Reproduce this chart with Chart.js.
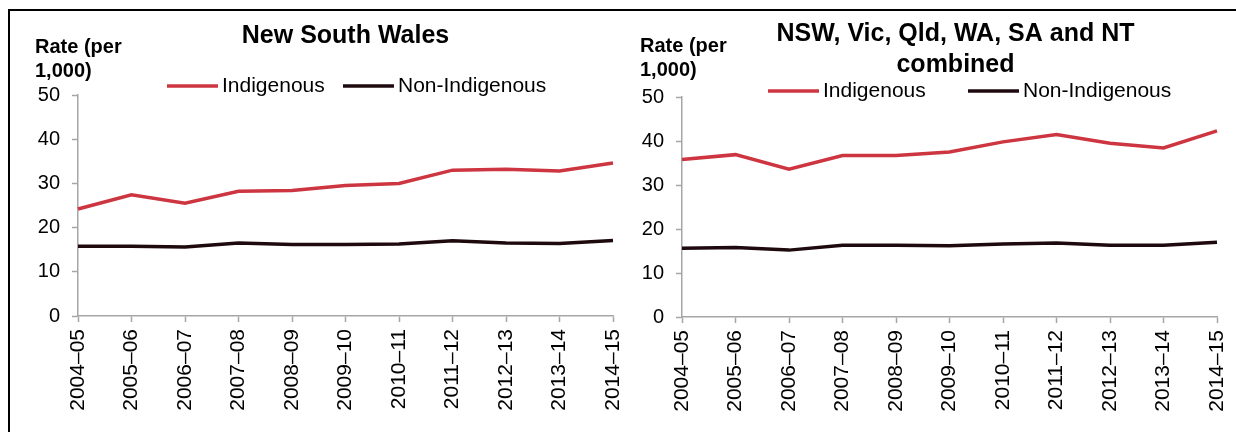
<!DOCTYPE html>
<html>
<head>
<meta charset="utf-8">
<script src="https://cdn.jsdelivr.net/npm/chart.js@4.4.1/dist/chart.umd.min.js"></script>
<style>
  html, body { margin: 0; padding: 0; background: #fff; }
  body { width: 1236px; height: 432px; position: relative; overflow: hidden; }
  #frame { position: absolute; left: 8px; top: 9px; width: 1300px; height: 500px;
           border-top: 2px solid #000; border-left: 2px solid #000; }
  canvas { position: absolute; top: 0; }
  #c1 { left: 0; }
  #c2 { left: 618px; }
</style>
</head>
<body>
<div id="frame"></div>
<canvas id="c1" width="640" height="432"></canvas>
<canvas id="c2" width="618" height="432"></canvas>
<script>
// ---- data ----
const years = ['2004–05','2005–06','2006–07','2007–08','2008–09','2009–10','2010–11','2011–12','2012–13','2013–14','2014–15'];
const nswIndigenous    = [24.2, 27.4, 25.5, 28.2, 28.4, 29.5, 30.0, 33.0, 33.2, 32.8, 34.6];
const nswNonIndigenous = [15.8, 15.8, 15.6, 16.5, 16.2, 16.2, 16.3, 17.0, 16.5, 16.4, 17.1];
const combIndigenous    = [35.8, 36.9, 33.6, 36.7, 36.7, 37.5, 39.8, 41.5, 39.5, 38.4, 42.3];
const combNonIndigenous = [15.6, 15.8, 15.2, 16.3, 16.3, 16.2, 16.6, 16.8, 16.3, 16.3, 17.0];
const yTicks = [0, 10, 20, 30, 40, 50];
const seriesNames = ['Indigenous', 'Non-Indigenous'];
const titleLeft = ['New South Wales'];
const titleRight = ['NSW, Vic, Qld, WA, SA and NT', 'combined'];
const yAxisLabel = ['Rate (per', '1,000)'];

// ---- styling ----
const RED = '#cd3540';
const DARK = '#1e0a0e';
const AXIS = '#a6a6a6';
const FONT = "'Liberation Sans', Arial, sans-serif";

Chart.defaults.font.family = FONT;
Chart.defaults.color = '#000';

const annotPlugin = {
  id: 'annot',
  afterDraw(chart, args, opts) {
    const ctx = chart.ctx;
    const ca = chart.chartArea;
    ctx.save();
    ctx.fillStyle = '#000';
    ctx.font = 'bold ' + opts.titleSize + 'px ' + FONT;
    ctx.textAlign = 'center';
    ctx.textBaseline = 'middle';
    const cx = (ca.left + ca.right) / 2 + opts.titleDx;
    opts.title.forEach((t, i) => ctx.fillText(t, cx, opts.titleY + i * opts.titleLH));
    ctx.font = 'bold ' + opts.rateSize + 'px ' + FONT;
    ctx.textAlign = 'left';
    opts.rate.forEach((t, i) => ctx.fillText(t, opts.rateX, opts.rateY + i * opts.rateLH));
    ctx.font = opts.legendSize + 'px ' + FONT;
    chart.data.datasets.forEach((ds, i) => {
      const x0 = opts.legendX[i];
      ctx.strokeStyle = ds.borderColor;
      ctx.lineWidth = ds.borderWidth;
      ctx.beginPath();
      ctx.moveTo(x0, opts.legendY);
      ctx.lineTo(x0 + opts.legendLine, opts.legendY);
      ctx.stroke();
      ctx.fillStyle = '#000';
      ctx.textAlign = 'left';
      ctx.fillText(ds.label, x0 + opts.legendLine + 4, opts.legendY);
    });
    ctx.restore();
  }
};

function makeChart(id, ind, non, cfg) {
  return new Chart(document.getElementById(id), {
    type: 'line',
    data: {
      labels: years,
      datasets: [
        { label: seriesNames[0], data: ind, borderColor: RED, backgroundColor: RED, borderWidth: 3.5, pointRadius: 0, tension: 0 },
        { label: seriesNames[1], data: non, borderColor: DARK, backgroundColor: DARK, borderWidth: 3.5, pointRadius: 0, tension: 0 }
      ]
    },
    options: {
      responsive: false,
      animation: false,
      devicePixelRatio: 1,
      layout: { padding: { top: cfg.top, left: 0, right: cfg.padRight, bottom: 0 } },
      plugins: {
        legend: { display: false },
        title: { display: false },
        tooltip: { enabled: false },
        annot: cfg.annot
      },
      scales: {
        x: {
          type: 'category',
          offset: false,
          grid: { display: true, drawOnChartArea: false, drawTicks: true, tickLength: 6, tickColor: AXIS, tickWidth: 1.5 },
          border: { display: true, color: AXIS, width: 1.5 },
          ticks: { autoSkip: false, minRotation: 90, maxRotation: 90, padding: 7, color: '#000', font: { size: 21 } },
          afterFit(scale) {
            scale.height = 432 - cfg.bottom;
            scale.paddingLeft = 0;
            scale.paddingRight = 0;
          }
        },
        y: {
          min: 0, max: 50,
          afterBuildTicks(scale) { scale.ticks = yTicks.map(v => ({ value: v })); },
          grid: { display: true, drawOnChartArea: false, drawTicks: true, tickLength: 6, tickColor: AXIS, tickWidth: 1.5 },
          border: { display: true, color: AXIS, width: 1.5 },
          ticks: { padding: 12, color: '#000', font: { size: 20 } },
          afterFit(scale) { scale.width = cfg.axisX; }
        }
      }
    },
    plugins: [annotPlugin]
  });
}

makeChart('c1', nswIndigenous, nswNonIndigenous, {
  top: 95, bottom: 316, axisX: 78, padRight: 27,
  annot: { title: titleLeft, titleSize: 25, titleY: 36, titleLH: 31, titleDx: 0,
           rate: yAxisLabel, rateSize: 20, rateX: 35, rateY: 47, rateLH: 24,
           legendSize: 21, legendY: 86, legendX: [167, 343], legendLine: 51 }
});
makeChart('c2', combIndigenous, combNonIndigenous, {
  top: 97, bottom: 317, axisX: 64, padRight: 19,
  annot: { title: titleRight, titleSize: 25, titleY: 34, titleLH: 31, titleDx: 6,
           rate: yAxisLabel, rateSize: 20, rateX: 22, rateY: 46, rateLH: 24,
           legendSize: 21, legendY: 91, legendX: [150, 350], legendLine: 51 }
});
</script>
</body>
</html>
